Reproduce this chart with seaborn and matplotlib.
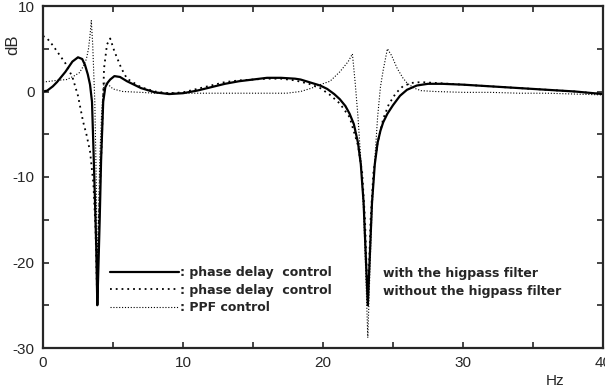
import numpy as np
import pandas as pd
import seaborn as sns
import matplotlib.pyplot as plt
from matplotlib.ticker import MultipleLocator

# phase delay control with the highpass filter
f_hpf = [0, 0.3, 0.7, 1.0, 1.6, 2.1, 2.5, 2.8, 3.0, 3.2, 3.36, 3.5, 3.6, 3.7, 3.8, 3.88,
         3.95, 4.05, 4.15, 4.3, 4.45, 4.6, 4.8, 5.1, 5.5, 6.0, 7.0, 8.0, 9.0, 10.0, 11.0,
         12.0, 13.0, 14.0, 15.0, 16.0, 17.0, 18.0, 18.4, 19.0, 19.8, 20.3, 20.8, 21.2, 21.6,
         21.9, 22.2, 22.5, 22.7, 22.9, 23.05, 23.2, 23.35, 23.5, 23.7, 23.9, 24.1, 24.3, 24.6,
         25.0, 25.5, 26.0, 26.7, 27.5, 28.5, 30.0, 32.0, 34.0, 36.0, 38.0, 40.0]
db_hpf = [0.0, 0.1, 0.6, 1.1, 2.3, 3.5, 4.0, 3.8, 3.1, 2.0, 0.8, -1.2, -6.5, -12.0, -18.0, -25.0,
          -21.0, -15.0, -8.0, -1.2, 0.5, 1.0, 1.4, 1.8, 1.7, 1.2, 0.4, -0.1, -0.3, -0.2, 0.1,
          0.5, 0.9, 1.2, 1.4, 1.6, 1.6, 1.5, 1.4, 1.1, 0.7, 0.3, -0.3, -0.9, -1.7,
          -2.6, -3.8, -6.0, -8.5, -13.0, -19.0, -25.0, -19.0, -13.0, -8.5, -6.0, -4.6, -3.6, -2.6,
          -1.6, -0.5, 0.2, 0.7, 0.9, 0.9, 0.8, 0.6, 0.4, 0.2, 0.0, -0.3]

# phase delay control without the highpass filter
f_nohpf = [0, 0.3, 0.7, 1.0, 1.6, 2.1, 2.5, 2.86, 3.1, 3.36, 3.6, 3.75, 3.88,
           3.95, 4.05, 4.2, 4.36, 4.57, 4.8, 5.1, 5.6, 6.0, 7.0, 8.0, 9.0, 10.0, 11.0,
           12.0, 13.0, 14.0, 15.0, 16.0, 17.0, 18.0, 19.0, 19.8, 20.5, 21.2, 21.9, 22.5,
           22.8, 23.0, 23.2, 23.4, 23.6, 23.9, 24.3, 24.7, 25.2, 25.7, 26.3, 27.0, 28.0,
           30.0, 32.0, 34.0, 36.0, 38.0, 40.0]
db_nohpf = [6.5, 6.2, 5.4, 4.7, 3.3, 1.7, -0.5, -3.5, -5.0, -7.0, -10.8, -16.0, -25.0,
            -18.0, -12.0, -5.8, 2.7, 5.5, 6.2, 4.7, 2.7, 1.5, 0.5, 0.0, -0.2, -0.1, 0.3,
            0.7, 1.1, 1.3, 1.4, 1.5, 1.5, 1.3, 0.9, 0.4, -0.4, -1.4, -3.0, -6.3,
            -9.5, -15.0, -25.0, -15.0, -9.5, -6.0, -3.2, -1.5, -0.2, 0.6, 1.0, 1.1, 1.0,
            0.8, 0.6, 0.4, 0.2, 0.0, -0.3]

# PPF control
f_ppf = [0, 0.5, 1.0, 1.7, 2.2, 2.6, 2.9, 3.1, 3.25, 3.36, 3.45, 3.55, 3.7, 3.8, 3.88,
         3.95, 4.05, 4.2, 4.35, 4.6, 5.0, 5.7, 7.0, 8.0, 10.0, 12.0, 14.0, 16.0, 17.4,
         18.4, 19.2, 19.8, 20.5, 21.2, 21.8, 22.1, 22.3, 22.5, 22.7, 22.9, 23.05, 23.2,
         23.35, 23.5, 23.7, 23.9, 24.1, 24.3, 24.6, 24.9, 25.3, 25.7, 26.0, 26.5, 27.0,
         28.0, 30.0, 32.0, 34.0, 36.0, 38.0, 40.0]
db_ppf = [1.1, 1.2, 1.3, 1.4, 1.8, 2.2, 3.0, 3.8, 5.0, 6.6, 8.3, 5.5, -1.2, -10.0, -22.0,
          -16.0, -8.0, -2.0, 1.0, 0.9, 0.3, 0.0, -0.1, -0.2, -0.2, -0.2, -0.2, -0.2, -0.2,
          0.0, 0.4, 0.8, 1.2, 2.3, 3.5, 4.4, 1.0, -3.0, -8.0, -14.0, -21.0, -28.8,
          -21.0, -14.0, -8.0, -3.0, 0.5, 2.5, 5.0, 4.2, 2.7, 1.6, 1.0, 0.4, 0.1,
          0.0, -0.1, -0.1, -0.2, -0.2, -0.3, -0.4]

sns.set_style("ticks")
plt.rcParams['font.family'] = ['Liberation Sans', 'DejaVu Sans']
plt.rcParams['axes.unicode_minus'] = False

fig = plt.figure(figsize=(6.05, 3.89), dpi=100)
ax = fig.add_axes([43/605, 1-348/389, 560/605, 342/389])

sns.lineplot(x=f_hpf, y=db_hpf, ax=ax, color='black', lw=1.6, sort=False,
             label=': phase delay  control')
sns.lineplot(x=f_nohpf, y=db_nohpf, ax=ax, color='black', lw=1.3, sort=False,
             linestyle=(0, (1, 2.2)), label=': phase delay  control')
sns.lineplot(x=f_ppf, y=db_ppf, ax=ax, color='black', lw=0.8, sort=False,
             linestyle=(0, (1, 1.6)), label=': PPF control')

ax.set_xlim(0, 40)
ax.set_ylim(-30, 10)
ax.xaxis.set_major_locator(MultipleLocator(10))
ax.xaxis.set_minor_locator(MultipleLocator(5))
ax.yaxis.set_major_locator(MultipleLocator(10))
ax.yaxis.set_minor_locator(MultipleLocator(5))
ax.tick_params(which='both', direction='in', top=True, right=True, length=4, width=1.2,
               labelsize=11, pad=6)
for s in ax.spines.values():
    s.set_linewidth(1.6)
    s.set_visible(True)
ax.set_xlabel('')
ax.set_ylabel('')

legfont = {'family': 'DejaVu Sans', 'weight': 'bold', 'size': 9.0}
leg = ax.legend(loc='upper left', bbox_to_anchor=(0.12, 0.24), frameon=False,
                handlelength=5.5, handletextpad=0.1, labelspacing=0.38,
                borderpad=0, borderaxespad=0, prop=legfont)

ax.text(0.607, 0.218, 'with the higpass filter', transform=ax.transAxes,
        fontdict=legfont, va='center')
ax.text(0.607, 0.165, 'without the higpass filter', transform=ax.transAxes,
        fontdict=legfont, va='center')

fig.text(13/605, 1-45/389, 'dB', rotation=90, fontsize=12, ha='center', va='center')
fig.text(555/605, 1-381/389, 'Hz', fontsize=11, ha='center', va='center')

fig.savefig('out.png', dpi=100)
